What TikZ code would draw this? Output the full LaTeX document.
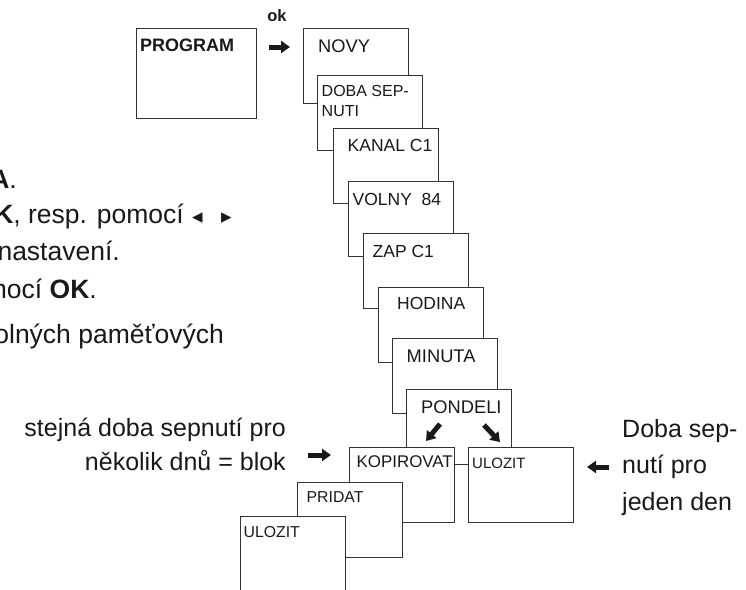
\documentclass[tikz,border=0pt]{standalone}
\usepackage{fontspec}
\setmainfont{Liberation Sans}
\newfontfamily\symfont{DejaVu Sans}
\usetikzlibrary{arrows.meta}
\newcommand{\tri}[1]{\makebox[9pt][c]{\symfont\fontsize{21}{21}\selectfont #1}}
\begin{document}
\begin{tikzpicture}
[x=1pt,y=-1pt,
 box/.style={draw=black!80,line width=0.9pt,fill=white,rectangle,minimum width=105pt,minimum height=75pt,inner sep=0pt,anchor=north west},
 tx/.style={anchor=base west,inner sep=0pt,text=black!90,font=\fontsize{17.5}{20.7}\selectfont},
 txl/.style={tx,font=\fontsize{18.3}{20.7}\selectfont},
 txs/.style={tx,font=\fontsize{15.8}{20.7}\selectfont},
 note/.style={inner sep=0pt,text=black!90,font=\fontsize{25}{34}\selectfont},
 cut/.style={note,anchor=base east,font=\fontsize{26.5}{34}\selectfont},
 blk/.style={line width=5pt,black!90,-{Triangle[length=9pt,width=12pt]}}]
\useasboundingbox (0,0) rectangle (746,589);
\clip (0,0) rectangle (746,589);

% text cut at the left edge
\node [cut] (la) at (17,188) {\textbf{A}.};
\node [cut] (lb) at (231,223) {\textbf{K}, resp. pomocí\hspace{9pt}\tri{◂}\hspace{20pt}\tri{▸}};
\node [cut] (lc) at (120,260) {nastavení.};
\node [cut] (ld) at (97,298) {mocí \textbf{OK}.};
\node [cut] (le) at (224,343) {olných paměťových};

% start
\node [box,minimum width=120pt,minimum height=90pt] at (136,28) (program) {};
\node [tx,font=\bfseries\fontsize{18}{21}\selectfont] at ([shift={(4,23)}]program.north west) (programT) {PROGRAM};
\node [anchor=base,inner sep=0pt,text=black!90,font=\bfseries\fontsize{16.5}{18}\selectfont] at (277,21) (ok) {ok};

% menu steps
\node [box] at (303,28) (novy) {};
\node [txl] at ([shift={(15,24)}]novy.north west) (novyT) {NOVY};
\node [box] at (317,75) (doba) {};
\node [txs,align=left,font=\fontsize{16}{20.7}\selectfont] at ([shift={(4.5,41.7)}]doba.north west) (dobaT) {DOBA SEP-\\NUTI};
\node [box] at (333,128) (kanal) {};
\node [tx] at ([shift={(14.5,23)}]kanal.north west) (kanalT) {KANAL C1};
\node [box] at (348,181) (volny) {};
\node [tx] at ([shift={(4.5,24)}]volny.north west) (volnyT) {VOLNY~~84};
\node [box] at (363,233) (zap) {};
\node [tx] at ([shift={(9.5,24)}]zap.north west) (zapT) {ZAP C1};
\node [box] at (378,287) (hodina) {};
\node [tx] at ([shift={(19,22.5)}]hodina.north west) (hodinaT) {HODINA};
\node [box] at (392,338) (minuta) {};
\node [txl] at ([shift={(14.5,24)}]minuta.north west) (minutaT) {MINUTA};
\node [box] at (406,389) (pondeli) {};
\node [txl] at ([shift={(15,24)}]pondeli.north west) (pondeliT) {PONDELI};

% block / one day
\node [box] at (349,447) (kopir) {};
\node [txs,font=\fontsize{16.9}{20}\selectfont] at ([shift={(7.5,20.5)}]kopir.north west) (kopirT) {KOPIROVAT};
\node [box] at (468,447) (ulozitR) {};
\node [txs,font=\fontsize{15}{18}\selectfont] at ([shift={(4,21.5)}]ulozitR.north west) (ulozitRT) {ULOZIT};
\node [box] at (297,482) (pridat) {};
\node [txs] at ([shift={(9.5,20.5)}]pridat.north west) (pridatT) {PRIDAT};
\node [box] at (240,516) (ulozitL) {};
\node [txs] at ([shift={(3.5,21)}]ulozitL.north west) (ulozitLT) {ULOZIT};

\node [note,anchor=base east,align=right] at (286,470) (blok) {stejná doba sepnutí pro\\několik dnů = blok};
\node [note,anchor=base west,align=left,font=\fontsize{25}{36.5}\selectfont] at (622,510) (den) {Doba sep-\\nutí pro\\jeden den};

% arrows
\coordinate (okA) at (269,47);
\coordinate (okB) at (290,47);
\coordinate (blokA) at (308,455);
\coordinate (blokB) at (331,455);
\coordinate (denA) at (609,467);
\coordinate (denB) at (587,467);
\coordinate (dlA) at (440,424);
\coordinate (dlB) at (426,441);
\coordinate (drA) at (484,425);
\coordinate (drB) at (500,442);
\draw [blk] (okA) -- (okB);
\draw [blk] (blokA) -- (blokB);
\draw [blk] (denA) -- (denB);
\draw [blk] (dlA) -- (dlB);
\draw [blk] (drA) -- (drB);
\end{tikzpicture}
\end{document}
